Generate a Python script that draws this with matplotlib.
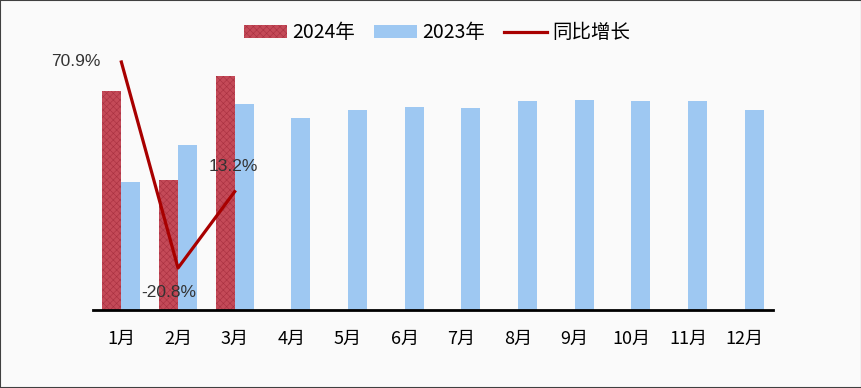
import numpy as np
import matplotlib.pyplot as plt
from matplotlib import rcParams

rcParams['font.family'] = ['Noto Sans CJK SC', 'DejaVu Sans']
rcParams['hatch.linewidth'] = 0.4

months = ['1月', '2月', '3月', '4月', '5月', '6月', '7月', '8月', '9月', '10月', '11月', '12月']
sales_2024 = [219, 130, 234]
sales_2023 = [128, 165, 206, 192, 200, 203, 202, 209, 210, 209, 209, 200]
growth = [70.9, -20.8, 13.2]
growth_labels = ['70.9%', '-20.8%', '13.2%']

RED = '#c44a58'
BLUE = '#9ec8f2'
LINE = '#a80000'

fig = plt.figure(figsize=(8.62, 3.88), dpi=100, facecolor='#fafafa')
fig.patches.append(plt.Rectangle((0, 0), 1, 1, transform=fig.transFigure,
                                 fill=False, edgecolor='#404040', linewidth=1.5))
ax = fig.add_axes([0.1079, 0.201, 0.7889, 0.696])
ax.set_facecolor('none')

x = np.arange(len(months))
w = 0.335
ax.bar(x[:len(sales_2024)] - w / 2, sales_2024, width=w, color=RED,
       edgecolor='#a83040', hatch='xxxxx', linewidth=0, label='2024年')
ax.bar(x + w / 2, sales_2023, width=w, color=BLUE, linewidth=0, label='2023年')

ax.set_xlim(-0.5, 11.5)
ax.set_ylim(0, 270)
ax.set_yticks([])
for s in ['left', 'right', 'top']:
    ax.spines[s].set_visible(False)
ax.spines['bottom'].set_linewidth(2)
ax.spines['bottom'].set_color('black')
ax.set_xticks(x)
ax.set_xticklabels(months, fontsize=13)
ax.tick_params(axis='x', length=0, pad=14)

ax2 = ax.twinx()
ax2.set_ylim(-39.5, 80.7)
ax2.set_yticks([])
for s in ax2.spines.values():
    s.set_visible(False)
ax2.plot(x[:len(growth)], growth, color=LINE, linewidth=2.3, label='同比增长')

label_font = dict(fontsize=12.5, color='#333333', family=['Liberation Sans'])
ax2.annotate(growth_labels[0], (x[0], growth[0]), xytext=(-15, 0),
             textcoords='offset points', ha='right', va='center', **label_font)
ax2.annotate(growth_labels[1], (x[1], growth[1]), xytext=(-7, -18),
             textcoords='offset points', ha='center', va='center', **label_font)
ax2.annotate(growth_labels[2], (x[2], growth[2]), xytext=(-1, 18),
             textcoords='offset points', ha='center', va='center', **label_font)

h1, l1 = ax.get_legend_handles_labels()
h2, l2 = ax2.get_legend_handles_labels()
fig.legend(h1 + h2, l1 + l2, loc='center', bbox_to_anchor=(0.507, 0.915), ncol=3,
           frameon=False, fontsize=14, handlelength=2.2, handleheight=0.7,
           columnspacing=1.0, handletextpad=0.25)

fig.savefig('out.png', dpi=100, facecolor=fig.get_facecolor())
